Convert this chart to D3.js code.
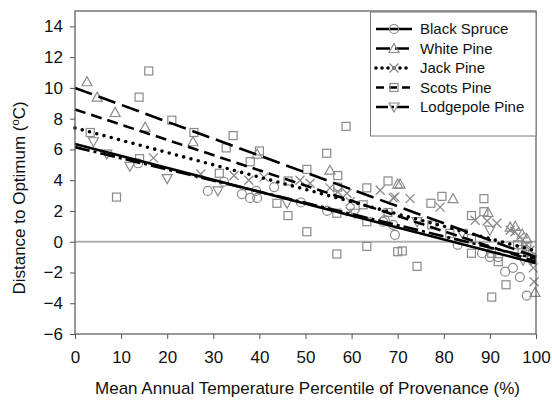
<!DOCTYPE html>
<html>
<head>
<meta charset="utf-8">
<script src="https://cdn.jsdelivr.net/npm/d3@7"></script>
<style>
  body { margin: 0; background: #fff; }
  svg { font-family: "Liberation Sans", Arial, sans-serif; }
</style>
</head>
<body>
<div id="chart"></div>
<script>
// DIMENSIONS
let width = 552,
    height = 400;
let plotLeft = 75, plotRight = 536, plotTop = 11, plotBottom = 334;

// DATA  [percentile, distance]
let species = ['Black Spruce', 'White Pine', 'Jack Pine', 'Scots Pine', 'Lodgepole Pine'];

let blackSprucePts = [
  [13.7, 5.1], [28.8, 3.3], [32.3, 3.9], [36.2, 3.1], [39.3, 3.3], [39.5, 2.85],
  [38, 2.85], [43.2, 3.55], [49, 2.55], [54.7, 2.0], [66.8, 1.3], [69, 1.1],
  [69.4, 0.45], [67.2, 1.4], [83, -0.2], [88.3, -0.75], [90, -1.0], [91.8, -1.0],
  [93.3, -1.95], [95, -1.7], [96.5, -2.3], [98, -3.5]
];
let whitePinePts = [
  [2.6, 10.4], [4.8, 9.4], [8.7, 8.4], [15.2, 7.45], [25.6, 6.5], [39.5, 5.7],
  [55.3, 4.65], [70, 3.75], [70.5, 3.75], [82, 2.8], [89.6, 1.9], [94.4, 0.95],
  [95.5, 1.0], [97, 0.5], [98, 0.2], [99.8, -3.3]
];
let jackPinePts = [
  [17, 5.45], [27.3, 4.4], [34.5, 4.3], [37.7, 4.0], [41, 4.2], [48.8, 4.0],
  [51, 3.8], [55.3, 3.5], [57, 3.25], [59, 3.15], [59.7, 2.6], [66.2, 3.35],
  [69, 2.85], [59.7, 1.95], [69.4, 2.9], [72.7, 2.8], [79.2, 2.25], [86.8, 1.4],
  [89.4, 1.35], [91.5, 1.2], [94.4, 0.75], [95.4, 0.65], [96.5, 0.3], [98, -0.2],
  [98.7, -0.55], [99.4, -1.7], [99.6, -2.6]
];
let scotsPinePts = [
  [3.3, 7.1], [9, 2.9], [16, 11.1], [13.9, 9.4], [21, 7.9], [25.8, 7.1],
  [34.3, 6.9], [32.8, 6.1], [14, 5.4], [31.3, 4.45], [38, 5.2], [40, 5.9],
  [58.8, 7.5], [54.6, 5.75], [50.3, 4.7], [57, 4.3], [57, 3.55], [46.2, 3.95],
  [67.9, 3.95], [63.3, 3.5], [43.8, 2.5], [46.2, 1.7], [62.5, 2.4], [67.9, 1.9],
  [56.8, 1.85], [63.3, 1.3], [50.3, 0.65], [56.8, -0.8], [63.3, -0.3], [70, -0.65],
  [79.6, 2.95], [77.2, 2.5], [88.7, 2.8], [86, 1.7], [88.7, 1.95], [77.4, 1.1],
  [81.3, 0.55], [86, 0.2], [86, -0.75], [90.4, -0.75], [91.8, -1.3], [71, -0.6],
  [74.2, -1.6], [93.5, -2.8], [90.4, -3.6], [96, -0.2], [97, -0.5], [98, -0.3], [99, -1.0]
];
let lodgepolePinePts = [
  [4, 6.5], [6.9, 5.7], [11.9, 4.9], [20, 4.1], [31, 3.3], [46, 2.5],
  [60.7, 1.85], [74.2, 1.3], [84, 0.55], [90, 0.75], [97.2, -1.2], [99, -1.2]
];

// regression lines: value at 0% and at 100%
let fitStart = [6.35, 10.0, 7.4, 8.6, 6.15];
let fitEnd = [-1.4, -1.0, -0.6, -1.3, -1.1];

let xTicks = d3.range(0, 101, 10);
let yTicks = d3.range(-6, 15, 2);

let allPts = [blackSprucePts, whitePinePts, jackPinePts, scotsPinePts, lodgepolePinePts];
let dashes = ['none', '18,7', '0,7.5', '11,6', '15,4,3,4'];
let legendDashes = ['none', '14,5', '0,6', '8,5', '12,3,3,3'];
let markerGray = '#8a8a8a';

let svg = d3.select('#chart')
  .append('svg')
  .attr('width', width)
  .attr('height', height);

// Scales
let xScale = d3.scaleLinear().domain([0, 100]).range([plotLeft, plotRight]);
let yScale = d3.scaleLinear().domain([-6, 15]).range([plotBottom, plotTop]);

// marker drawing
function drawMarker(g, shape, cx, cy) {
  let s = 4.5;
  if (shape === 0) {
    g.append('circle').attr('cx', cx).attr('cy', cy).attr('r', s)
      .attr('fill', 'none').attr('stroke', markerGray).attr('stroke-width', 1.2);
  } else if (shape === 1) {
    g.append('path')
      .attr('d', `M${cx},${cy - s - 0.5}L${cx + s + 0.5},${cy + s - 0.5}L${cx - s - 0.5},${cy + s - 0.5}Z`)
      .attr('fill', 'none').attr('stroke', markerGray).attr('stroke-width', 1.2);
  } else if (shape === 2) {
    g.append('path')
      .attr('d', `M${cx - s},${cy - s}L${cx + s},${cy + s}M${cx - s},${cy + s}L${cx + s},${cy - s}`)
      .attr('fill', 'none').attr('stroke', markerGray).attr('stroke-width', 1.3);
  } else if (shape === 3) {
    g.append('rect').attr('x', cx - s + 0.5).attr('y', cy - s + 0.5)
      .attr('width', 2 * s - 1).attr('height', 2 * s - 1)
      .attr('fill', 'none').attr('stroke', markerGray).attr('stroke-width', 1.2);
  } else {
    g.append('path')
      .attr('d', `M${cx},${cy + s + 0.5}L${cx + s + 0.5},${cy - s + 0.5}L${cx - s - 0.5},${cy - s + 0.5}Z`)
      .attr('fill', 'none').attr('stroke', markerGray).attr('stroke-width', 1.2);
  }
}

// zero line
svg.append('line')
  .attr('x1', xScale(0)).attr('x2', xScale(100))
  .attr('y1', yScale(0)).attr('y2', yScale(0))
  .attr('stroke', '#b0b0b0').attr('stroke-width', 2);

// points
let pointsG = svg.append('g');
allPts.forEach((pts, i) => {
  pts.forEach((p) => drawMarker(pointsG, i, xScale(p[0]), yScale(p[1])));
});

// fit lines
let line = d3.line().x((d) => xScale(d[0])).y((d) => yScale(d[1]));
species.forEach((name, i) => {
  svg.append('path')
    .datum([[0, fitStart[i]], [100, fitEnd[i]]])
    .attr('fill', 'none')
    .attr('stroke', '#000')
    .attr('stroke-width', i === 2 ? 3.6 : 2.6)
    .attr('stroke-linecap', i === 2 ? 'round' : 'butt')
    .attr('stroke-dasharray', dashes[i])
    .attr('d', line);
});

// frame
svg.append('rect')
  .attr('x', plotLeft).attr('y', plotTop)
  .attr('width', plotRight - plotLeft).attr('height', plotBottom - plotTop)
  .attr('fill', 'none').attr('stroke', '#555').attr('stroke-width', 1.2);

// Axes
let yAxis = svg.append('g')
  .attr('transform', `translate(${plotLeft},0)`)
  .call(d3.axisLeft(yScale).tickValues(yTicks).tickSize(5).tickPadding(7));
yAxis.select('.domain').remove();
yAxis.selectAll('line').attr('stroke', '#555');
yAxis.selectAll('text').style('font-size', '17px').attr('fill', '#111')
  .style('font-family', '"Liberation Sans", Arial, sans-serif');

let xAxis = svg.append('g')
  .attr('transform', `translate(0,${plotBottom})`)
  .call(d3.axisBottom(xScale).tickValues(xTicks).tickSize(5).tickPadding(12));
xAxis.select('.domain').remove();
xAxis.selectAll('line').attr('stroke', '#555');
xAxis.selectAll('text').style('font-size', '17px').attr('fill', '#111')
  .style('font-family', '"Liberation Sans", Arial, sans-serif');

// axis titles
svg.append('text')
  .attr('x', (plotLeft + plotRight) / 2 + 2)
  .attr('y', 394)
  .attr('text-anchor', 'middle')
  .style('font-size', '17px')
  .attr('fill', '#111')
  .text('Mean Annual Temperature Percentile of Provenance (%)');

let yTitle = svg.append('text')
  .attr('transform', 'translate(25,198) rotate(-90)')
  .attr('text-anchor', 'middle')
  .style('font-size', '17px')
  .attr('fill', '#111');
yTitle.append('tspan').text('Distance to Optimum (');
yTitle.append('tspan').attr('dy', -6).style('font-size', '11px').text('o');
yTitle.append('tspan').attr('dy', 6).text('C)');

// Legend
let legend = svg.append('g');
legend.append('rect')
  .attr('x', 370.5).attr('y', plotTop + 1)
  .attr('width', plotRight - 370.5).attr('height', 124)
  .attr('fill', '#fff').attr('stroke', '#777').attr('stroke-width', 1);
species.forEach((name, i) => {
  let ly = 29 + i * 19.5;
  legend.append('line')
    .attr('x1', 376).attr('x2', 412).attr('y1', ly).attr('y2', ly)
    .attr('stroke', '#000')
    .attr('stroke-width', i === 2 ? 3.6 : 2.6)
    .attr('stroke-linecap', i === 2 ? 'round' : 'butt')
    .attr('stroke-dasharray', legendDashes[i]);
  drawMarker(legend, i, 394, ly);
  legend.append('text')
    .attr('x', 420).attr('y', ly + 5)
    .style('font-size', '15px')
    .attr('fill', '#111')
    .text(name);
});
</script>
</body>
</html>
